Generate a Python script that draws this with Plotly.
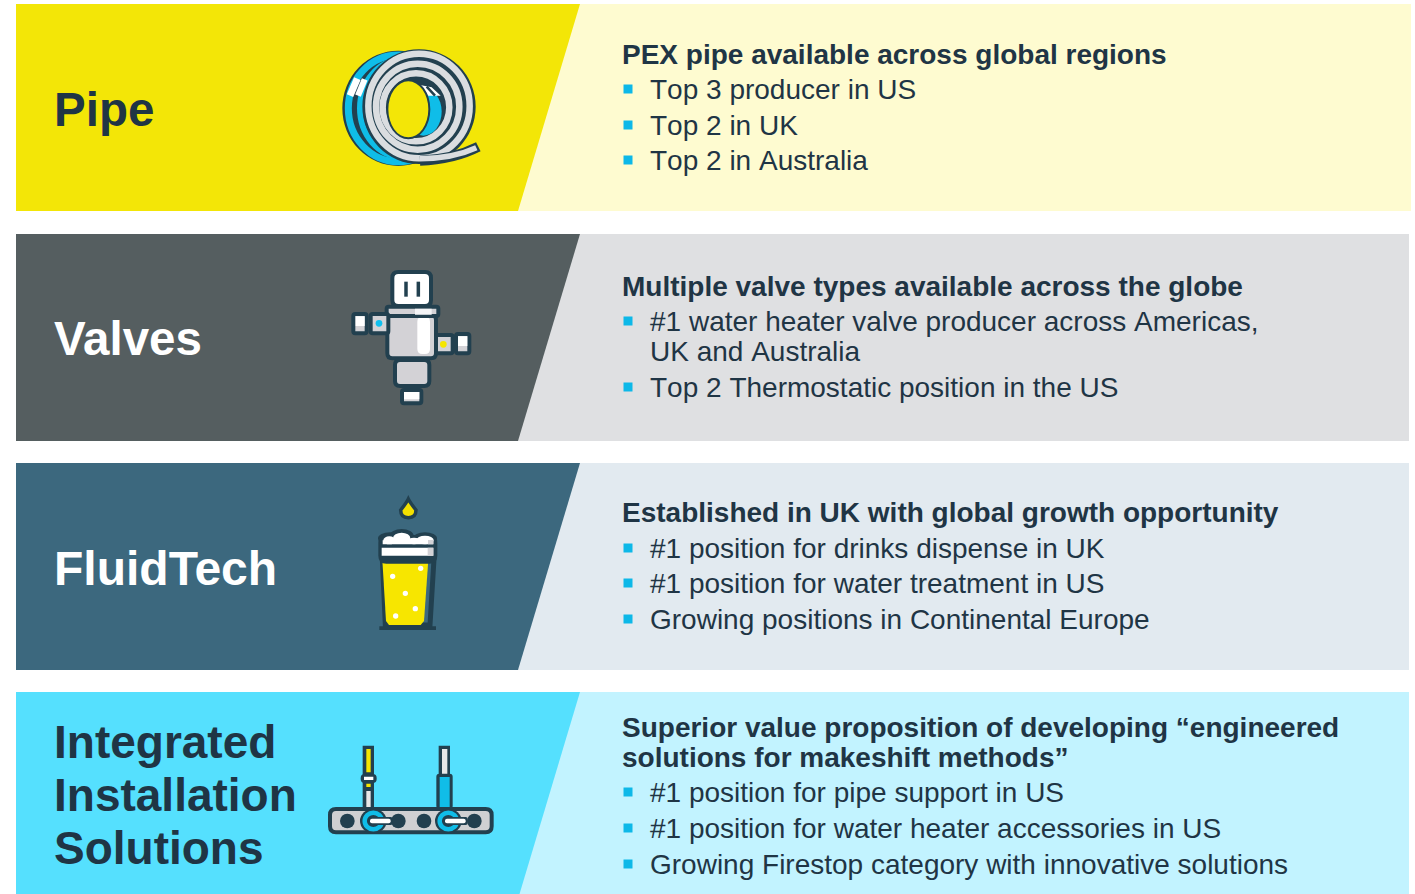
import plotly.graph_objects as go

# ---- content ----
categories = [["Pipe"], ["Valves"], ["FluidTech"], ["Integrated", "Installation", "Solutions"]]
headings = [
    ["PEX pipe available across global regions"],
    ["Multiple valve types available across the globe"],
    ["Established in UK with global growth opportunity"],
    ["Superior value proposition of developing “engineered", "solutions for makeshift methods”"],
]
bullets = [
    ["Top 3 producer in US", "Top 2 in UK", "Top 2 in Australia"],
    ["#1 water heater valve producer across Americas,", "UK and Australia", "Top 2 Thermostatic position in the US"],
    ["#1 position for drinks dispense in UK", "#1 position for water treatment in US", "Growing positions in Continental Europe"],
    ["#1 position for pipe support in US", "#1 position for water heater accessories in US", "Growing Firestop category with innovative solutions"],
]

# ---- layout and styling ----
W, H = 1415, 894
DARK = "#1F3545"
ICON = "#22404F"
CYAN = "#0FBDE8"
YEL = "#F5E600"
GREY = "#D3D2D6"
RING = "#DADDE0"
band_tops = [4, 234, 463, 692]
band_bots = [211, 441, 670, 894]
band_right = [1411, 1409, 1409, 1409]
dark_cols = ["#F3E607", "#555E60", "#3C687E", "#55E0FE"]
light_cols = ["#FEFBD0", "#DFE0E2", "#E2EAF0", "#C2F3FF"]
title_cols = [DARK, "#FFFFFF", "#FFFFFF", DARK]
title_sizes = [47.5, 47.5, 48, 46]
title_y = [[109], [338], [568], [742, 795, 848]]
head_y = [[54], [286], [512], [727, 757]]
bullet_y = [[89, 125, 160], [321, 351, 387], [548, 583, 619], [792, 828, 864]]
marker_y = [[89, 125, 160], [321, 387], [548, 583, 619], [792, 828, 864]]

shapes = []


def poly(pts, fill, line=None, lw=0):
    d = "M" + " L".join(f"{x},{y}" for x, y in pts) + " Z"
    shapes.append(dict(type="path", path=d, fillcolor=fill, line=dict(color=line or fill, width=lw), layer="below"))


def path(d, fill=None, line=None, lw=0):
    shapes.append(dict(type="path", path=d, fillcolor=fill or "rgba(0,0,0,0)",
                       line=dict(color=line or "rgba(0,0,0,0)", width=lw), layer="below"))


def ell(cx, cy, rx, ry, fill=None, line=None, lw=0):
    shapes.append(dict(type="circle", x0=cx - rx, x1=cx + rx, y0=cy - ry, y1=cy + ry,
                       fillcolor=fill or "rgba(0,0,0,0)",
                       line=dict(color=line or "rgba(0,0,0,0)", width=lw), layer="below"))


def rr(x0, y0, x1, y1, r, fill, line=None, lw=0):
    d = (f"M{x0+r},{y0} L{x1-r},{y0} Q{x1},{y0} {x1},{y0+r} L{x1},{y1-r} Q{x1},{y1} {x1-r},{y1} "
         f"L{x0+r},{y1} Q{x0},{y1} {x0},{y1-r} L{x0},{y0+r} Q{x0},{y0} {x0+r},{y0} Z")
    path(d, fill, line, lw)


# ---- bands ----
for top, bot, right, dc, lc in zip(band_tops, band_bots, band_right, dark_cols, light_cols):
    poly([(500, top), (right, top), (right, bot), (500, bot)], lc)
    poly([(16, top), (580, top), (580 - 0.2995 * (bot - top), bot), (16, bot)], dc)


# icon helpers: coordinates local to a 3x crop of each icon
def at(ox, oy):
    return lambda x, y: (ox + x / 3, oy + y / 3)


def E(f, cx, cy, rx, ry, **k):
    x, y = f(cx, cy)
    ell(x, y, rx / 3, ry / 3, **k)


def R(f, x0, y0, x1, y1, r, fill, line=None, lw=0):
    a, b = f(x0, y0), f(x1, y1)
    rr(a[0], a[1], b[0], b[1], r, fill, line, lw)


def L(f, x0, y0, x1, y1, color, lw):
    a, b = f(x0, y0), f(x1, y1)
    shapes.append(dict(type="line", x0=a[0], x1=b[0], y0=a[1], y1=b[1], line=dict(color=color, width=lw), layer="below"))


# ---- pipe icon ----
p = at(320, 30)
E(p, 235, 235, 168, 173, fill=ICON)
E(p, 235, 235, 150, 160, line=CYAN, lw=7)
E(p, 245, 235, 125, 145, line=CYAN, lw=6)
L(p, 112, 146, 90, 197, "#FFFFFF", 7)
L(p, 134, 148, 114, 197, "#FFFFFF", 6)
E(p, 297, 230, 170, 172, fill=ICON)
for cx, cy, rx, ry in [(297, 228, 152, 157), (293, 230, 125, 129), (288, 232, 100, 102)]:
    E(p, cx, cy, rx, ry, line=RING, lw=6.5)
E(p, 285, 238, 80, 84, fill=ICON)
E(p, 310, 245, 55, 72, fill=CYAN)
poly([p(300, 165), p(335, 172), p(362, 197), p(325, 197)], "#FFFFFF")
L(p, 320, 170, 345, 197, ICON, 2.5)
E(p, 265, 238, 66, 90, fill=ICON)
E(p, 265, 238, 60, 84, fill="#F3E607")
a, b, c = p(300, 392), p(400, 388), p(475, 350)
path(f"M{a[0]},{a[1]} Q{b[0]},{b[1]} {c[0]},{c[1]}", None, ICON, 10)
a2 = p(300, 386)
path(f"M{a2[0]},{a2[1]} Q{b[0]},{b[1]-1} {c[0]-2},{c[1]+1}", None, RING, 5.5)

# ---- valve icon ----
v = at(330, 260)
R(v, 187, 36, 303, 138, 6, "#FFFFFF", ICON, 4)
for xx in (228, 265):
    L(v, xx, 65, xx, 110, ICON, 3.5)
R(v, 172, 165, 318, 295, 5, GREY, ICON, 4)
R(v, 262, 170, 300, 282, 5, "#FFFFFF")
R(v, 170, 140, 325, 168, 2, GREY, ICON, 4)
R(v, 255, 146, 305, 164, 0, "#F4F4F6")
R(v, 195, 300, 298, 378, 5, GREY, ICON, 4)
R(v, 216, 390, 274, 430, 2, GREY, ICON, 4)
R(v, 222, 396, 268, 418, 0, "#FFFFFF")
for x0, x1, y0, y1 in [(70, 110, 162, 220), (122, 175, 162, 220), (318, 368, 225, 280), (378, 418, 222, 280)]:
    R(v, x0, y0, x1, y1, 2, GREY, ICON, 4)
R(v, 77, 169, 104, 198, 0, "#FFFFFF")
R(v, 384, 229, 412, 258, 0, "#FFFFFF")
E(v, 147, 190, 10, 10, fill="#0FC0F0")
E(v, 340, 253, 10, 10, fill=YEL)

# ---- beer icon ----
g = at(350, 485)
t, l, r, bt = g(175, 42), g(152, 75), g(198, 75), g(175, 98)
path(f"M{t[0]},{t[1]} Q{t[0]-2},{t[1]+4} {l[0]},{l[1]} Q{l[0]},{bt[1]} {bt[0]},{bt[1]} "
     f"Q{r[0]},{bt[1]} {r[0]},{r[1]} Q{t[0]+2},{t[1]+4} {t[0]},{t[1]} Z", "#F3E000", ICON, 3.5)
poly([g(97, 222), g(106, 420), g(240, 420), g(252, 222)], "#3C687E", ICON, 5)
poly([g(97, 224), g(235, 224), g(222, 408), g(212, 420), g(117, 420), g(108, 408)], "#F7E600")
R(g, 88, 424, 258, 435, 0, ICON)
R(g, 85, 150, 262, 236, 8, ICON)
for cx, cy, rx, ry in [(120, 160, 36, 18), (155, 152, 36, 20), (225, 160, 36, 18)]:
    E(g, cx, cy, rx, ry, fill=ICON)
R(g, 95, 188, 250, 212, 0, "#FFFFFF")
R(g, 233, 188, 250, 212, 0, "#D3D2D6")
for cx, cy, rx, ry in [(118, 166, 18, 12), (155, 160, 26, 17), (192, 168, 20, 10), (225, 165, 26, 13)]:
    E(g, cx, cy, rx, ry, fill="#FFFFFF")
R(g, 98, 166, 250, 178, 0, "#FFFFFF")
R(g, 234, 165, 250, 178, 0, "#D3D2D6")
for cx, cy in [(212, 250), (128, 274), (166, 325), (196, 371), (137, 393)]:
    E(g, cx, cy, 8, 8, fill="#FFFFFF")

# ---- installation icon ----
s = at(320, 735)
R(s, 128, 32, 162, 220, 0, ICON)
R(s, 139, 42, 152, 112, 0, YEL)
R(s, 139, 146, 152, 156, 0, YEL)
R(s, 139, 168, 152, 216, 0, "#E8E8E8")
R(s, 122, 117, 170, 144, 4, ICON)
R(s, 132, 125, 160, 135, 0, "#FFFFFF")
R(s, 356, 32, 390, 125, 0, ICON)
R(s, 366, 42, 382, 118, 0, "#E8E8E8")
R(s, 349, 116, 398, 222, 3, ICON)
R(s, 359, 126, 389, 218, 0, "#10BDE8")
R(s, 30, 222, 515, 292, 6, "#CFD0D2", ICON, 4)
for cx in (82, 235, 312, 463):
    E(s, cx, 258, 22, 22, fill=ICON)
for cx in (160, 385):
    E(s, cx, 258, 40, 37, fill=ICON)
    E(s, cx, 258, 26, 25, line="#10BDE8", lw=4.5)
    R(s, cx - 14, 246, cx + 58, 270, 2, ICON)
    R(s, cx - 10, 251, cx + 52, 265, 2, "#FFFFFF")

# ---- text ----
ann = []


def text(x, y, s_, size, color, bold=False, kern=True):
    body = f"<b>{s_}</b>" if bold else s_
    if not kern:
        body = f'<span style="font-kerning:none">{body}</span>'
    ann.append(dict(x=x, y=y, xref="x", yref="y", text=body, showarrow=False,
                    xanchor="left", yanchor="middle", align="left", borderpad=0,
                    font=dict(family="Liberation Sans", size=size, color=color)))


for i in range(4):
    for t_, y in zip(categories[i], title_y[i]):
        text(53, y, t_, title_sizes[i], title_cols[i], True)
    for t_, y in zip(headings[i], head_y[i]):
        text(621, y, t_, 28, DARK, True)
    for t_, y in zip(bullets[i], bullet_y[i]):
        text(649, y, t_, 28, DARK, kern=False)

fig = go.Figure()
fig.add_trace(go.Scatter(
    x=[628] * sum(len(m) for m in marker_y),
    y=[y for m in marker_y for y in m],
    mode="markers", hoverinfo="skip",
    marker=dict(symbol="square", size=9, color="#0DB8E8", line=dict(width=0)),
))
fig.update_layout(
    width=W, height=H, margin=dict(l=0, r=0, t=0, b=0), autosize=False,
    paper_bgcolor="#FFFFFF", plot_bgcolor="rgba(0,0,0,0)", showlegend=False,
    xaxis=dict(range=[0, W], visible=False, fixedrange=True),
    yaxis=dict(range=[H, 0], visible=False, fixedrange=True),
    shapes=shapes, annotations=ann,
)
fig.write_html("out.html", config=dict(displayModeBar=False),
               post_script="document.body.style.margin='0';document.body.style.overflow='hidden';")
